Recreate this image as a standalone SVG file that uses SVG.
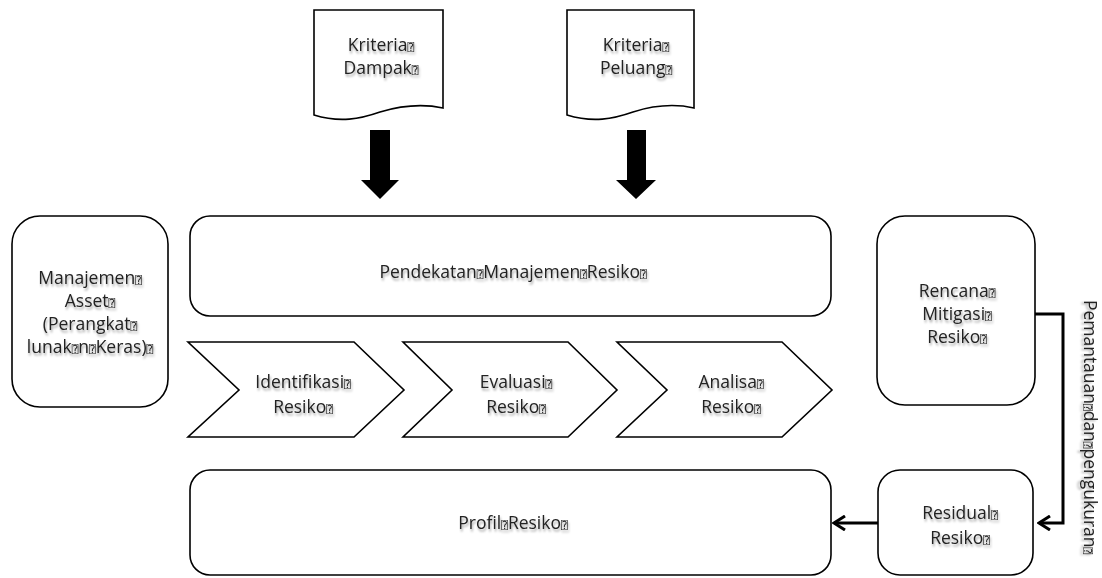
<svg xmlns="http://www.w3.org/2000/svg" width="1102" height="578" viewBox="0 0 1102 578">
<defs>
<style>
.box{fill:#fff;stroke:#000;stroke-width:1.6}
.blk{fill:#000;stroke:none}
.lbl{font-family:"Open Sans","DejaVu Sans",sans-serif;font-size:17.5px;fill:#222;text-anchor:middle;filter:url(#ts)}
.q{font-family:"DejaVu Sans Mono","DejaVu Sans",sans-serif;font-size:11px}
.con{fill:none;stroke:#000;stroke-width:3}
</style>
<filter id="ts" x="-10%" y="-30%" width="120%" height="180%">
<feDropShadow dx="1" dy="2.5" stdDeviation="1.3" flood-color="#000" flood-opacity="0.35"/>
</filter>
<marker id="ah" markerUnits="userSpaceOnUse" viewBox="0 0 16 16" refX="14" refY="8" markerWidth="16" markerHeight="16" orient="auto">
<path d="M3,1 L14,8 L3,15" fill="none" stroke="#000" stroke-width="3"/>
</marker>
</defs>
<rect width="1102" height="578" fill="#fff"/>

<g id="kriteria-dampak">
<path class="box" d="M314,10 H443 V108 C420,103 400,106 380,112 C360,119 340,123 314,115 Z"/>
<text class="lbl" x="381" y="51">Kriteria<tspan class="q">⍰</tspan></text>
<text class="lbl" x="381" y="74">Dampak<tspan class="q">⍰</tspan></text>
</g>
<g id="kriteria-peluang">
<path class="box" d="M567,10 H694 V108 C672,103 652,106 633,112 C613,119 593,123 567,115 Z"/>
<text class="lbl" x="636" y="51">Kriteria<tspan class="q">⍰</tspan></text>
<text class="lbl" x="636" y="74">Peluang<tspan class="q">⍰</tspan></text>
</g>

<g id="arrow-dampak">
<path class="blk" d="M370,130 H390 V180 H399 L380,199 L361,180 H370 Z"/>
</g>
<g id="arrow-peluang">
<path class="blk" d="M627,130 H646 V180 H656 L636,199 L616,180 H627 Z"/>
</g>

<g id="manajemen-asset">
<rect class="box" x="12" y="216" width="156" height="191" rx="28"/>
<text class="lbl" x="90" y="284">Manajemen<tspan class="q">⍰</tspan></text>
<text class="lbl" x="90" y="307">Asset<tspan class="q">⍰</tspan></text>
<text class="lbl" x="90" y="330">(Perangkat<tspan class="q">⍰</tspan></text>
<text class="lbl" x="90" y="353">lunak<tspan class="q">⍰</tspan>n<tspan class="q">⍰</tspan>Keras)<tspan class="q">⍰</tspan></text>
</g>

<g id="pendekatan">
<rect class="box" x="190" y="216" width="641" height="100" rx="20"/>
<text class="lbl" x="513" y="278">Pendekatan<tspan class="q">⍰</tspan>Manajemen<tspan class="q">⍰</tspan>Resiko<tspan class="q">⍰</tspan></text>
</g>

<g id="identifikasi">
<path class="box" d="M188,342 H354 L404,390 L354,437 H188 L239,390 Z"/>
<text class="lbl" x="303" y="388">Identifikasi<tspan class="q">⍰</tspan></text>
<text class="lbl" x="303" y="413">Resiko<tspan class="q">⍰</tspan></text>
</g>
<g id="evaluasi">
<path class="box" d="M403,342 H568 L617,390 L568,437 H403 L452,390 Z"/>
<text class="lbl" x="516" y="388">Evaluasi<tspan class="q">⍰</tspan></text>
<text class="lbl" x="516" y="413">Resiko<tspan class="q">⍰</tspan></text>
</g>
<g id="analisa">
<path class="box" d="M617,342 H782 L832,390 L782,437 H617 L667,390 Z"/>
<text class="lbl" x="731" y="388">Analisa<tspan class="q">⍰</tspan></text>
<text class="lbl" x="731" y="413">Resiko<tspan class="q">⍰</tspan></text>
</g>

<g id="rencana-mitigasi">
<rect class="box" x="877" y="216" width="158" height="189" rx="28"/>
<text class="lbl" x="957" y="297">Rencana<tspan class="q">⍰</tspan></text>
<text class="lbl" x="957" y="320">Mitigasi<tspan class="q">⍰</tspan></text>
<text class="lbl" x="957" y="343">Resiko<tspan class="q">⍰</tspan></text>
</g>

<g id="residual">
<rect class="box" x="878" y="470" width="155" height="105" rx="22"/>
<text class="lbl" x="960" y="519">Residual<tspan class="q">⍰</tspan></text>
<text class="lbl" x="960" y="544">Resiko<tspan class="q">⍰</tspan></text>
</g>

<g id="profil">
<rect class="box" x="190" y="470" width="641" height="105" rx="20"/>
<text class="lbl" x="513" y="529">Profil<tspan class="q">⍰</tspan>Resiko<tspan class="q">⍰</tspan></text>
</g>

<g id="connectors">
<path class="con" d="M1035,314 H1063 V523 H1039" marker-end="url(#ah)"/>
<path class="con" d="M878,523 H834" marker-end="url(#ah)"/>
</g>

<g id="label-pemantauan">
<text class="lbl" transform="translate(1090,427) rotate(90)" x="0" y="6">Pemantauan<tspan class="q">⍰</tspan>dan<tspan class="q">⍰</tspan>pengukuran<tspan class="q">⍰</tspan></text>
</g>
</svg>
